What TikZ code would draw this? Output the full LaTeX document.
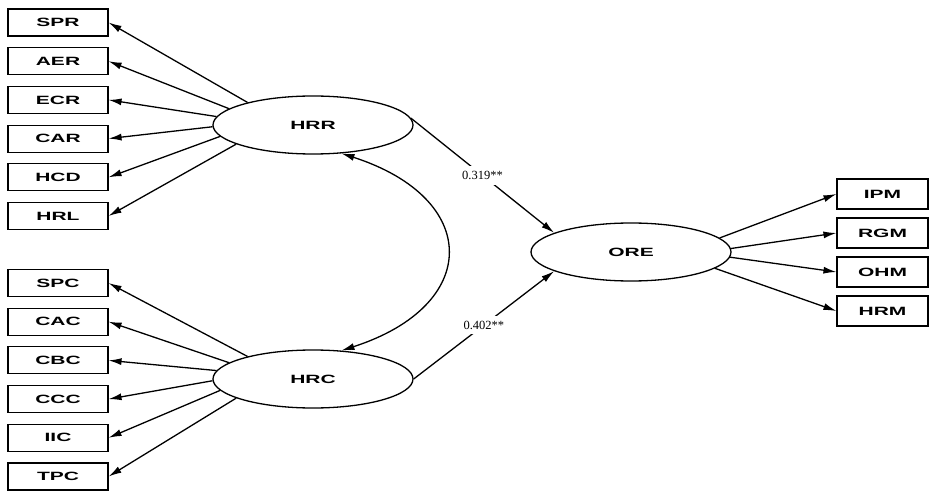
\documentclass[tikz,border=0pt]{standalone}
\usepackage{fontspec}
\setmainfont{Liberation Serif}
\newfontfamily\itemfont[FakeStretch=1.75]{Liberation Sans}
\usepackage{tikz}
\usetikzlibrary{shapes.geometric,arrows.meta}

\begin{document}
\begin{tikzpicture}[
  x=1pt, y=-1pt,
  item/.style={draw, line width=1.1pt, minimum width=100pt, minimum height=27pt,
               inner sep=0pt, font=\itemfont\bfseries\fontsize{12}{13}\selectfont},
  ritem/.style={item, minimum width=91pt, minimum height=30pt},
  latent/.style={draw, ellipse, line width=1.3pt, minimum width=200pt, minimum height=58pt,
                 inner sep=0pt, font=\itemfont\bfseries\fontsize{12}{13}\selectfont},
  coef/.style={fill=white, inner sep=5pt, font=\fontsize{12.5}{13}\selectfont},
  >={Latex[length=13pt,width=7pt]},
  every path/.append style={line width=1.3pt}
]
\useasboundingbox (0,0) rectangle (930,492);

% latent variables
\node[latent] (HRR) at (313,125) {HRR};
\node[latent] (HRC) at (313,379) {HRC};
\node[latent] (ORE) at (631,252) {ORE};

% indicators of HRR
\node[item] (SPR) at (58,22.5)  {SPR};
\node[item] (AER) at (58,61.2)  {AER};
\node[item] (ECR) at (58,99.9)  {ECR};
\node[item] (CAR) at (58,138.6) {CAR};
\node[item] (HCD) at (58,177.3) {HCD};
\node[item] (HRL) at (58,216)   {HRL};

% indicators of HRC
\node[item] (SPC) at (58,283)   {SPC};
\node[item] (CAC) at (58,321.7) {CAC};
\node[item] (CBC) at (58,360.4) {CBC};
\node[item] (CCC) at (58,399.1) {CCC};
\node[item] (IIC) at (58,437.8) {IIC};
\node[item] (TPC) at (58,476.5) {TPC};

% indicators of ORE
\node[ritem] (IPM) at (882.5,194) {IPM};
\node[ritem] (RGM) at (882.5,233) {RGM};
\node[ritem] (OHM) at (882.5,272) {OHM};
\node[ritem] (HRM) at (882.5,311) {HRM};

\draw[->] (HRR.161) -- (SPR.east);
\draw[->] (HRR.169) -- (AER.east);
\draw[->] (HRR.175) -- (ECR.east);
\draw[->] (HRR.181) -- (CAR.east);
\draw[->] (HRR.187) -- (HCD.east);
\draw[->] (HRR.194) -- (HRL.east);

\draw[->] (HRC.161) -- (SPC.east);
\draw[->] (HRC.169) -- (CAC.east);
\draw[->] (HRC.175) -- (CBC.east);
\draw[->] (HRC.181) -- (CCC.east);
\draw[->] (HRC.187) -- (IIC.east);
\draw[->] (HRC.194) -- (TPC.east);

\draw[->] (ORE.9)   -- (IPM.west);
\draw[->] (ORE.2)   -- (RGM.west);
\draw[->] (ORE.-3)  -- (OHM.west);
\draw[->] (ORE.-11) -- (HRM.west);

% paths and covariance
\draw[->] (HRR.4) -- (ORE.166) node[coef, pos=0.5] {0.319**};
\draw[->] (HRC.east) -- (ORE.194) node[coef, pos=0.5] {0.402**};
\draw[<->] (HRR.-45) .. controls +(140,45) and +(140,-45) .. (HRC.45);
\end{tikzpicture}
\end{document}
